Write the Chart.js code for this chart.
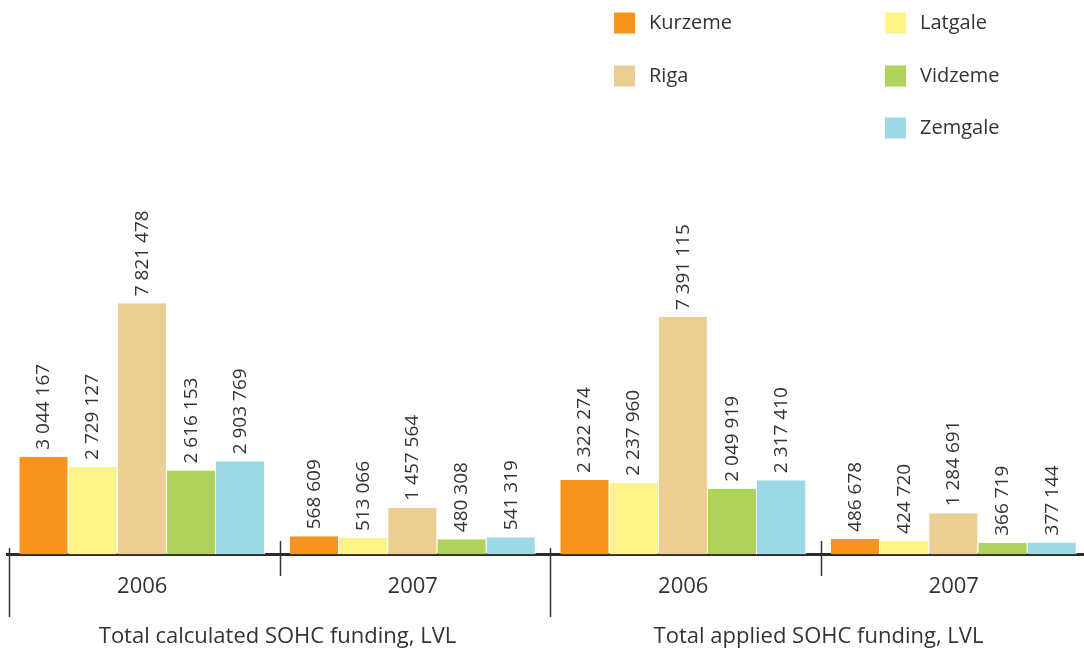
<!DOCTYPE html>
<html>
<head>
<meta charset="utf-8">
<script src="https://cdn.jsdelivr.net/npm/chart.js@4"></script>
<style>
  html, body { margin: 0; padding: 0; background: #fff; overflow: hidden; }
  #wrap { width: 1089px; height: 652px; position: relative; }
</style>
</head>
<body>
<div id="wrap"><canvas id="chart"></canvas></div>
<script>
// data
const years = ['2006', '2007', '2006', '2007'];
const groupLabels = ['Total calculated SOHC funding, LVL', 'Total applied SOHC funding, LVL'];
const regions = ['Kurzeme', 'Latgale', 'Riga', 'Vidzeme', 'Zemgale'];
const kurzeme = [3044167, 568609, 2322274, 486678];
const latgale = [2729127, 513066, 2237960, 424720];
const riga = [7821478, 1457564, 7391115, 1284691];
const vidzeme = [2616153, 480308, 2049919, 366719];
const zemgale = [2903769, 541319, 2317410, 377144];
const colors = ['#F7941D', '#FEF388', '#EDCE92', '#AFD25A', '#9DD8E5'];

const FONT = '"Open Sans", "Noto Sans", sans-serif';
const TEXT = '#333333';

function fmt(v) {
  return String(v).replace(/\B(?=(\d{3})+(?!\d))/g, ' ');
}

// value labels above bars, rotated
const valueLabels = {
  id: 'valueLabels',
  afterDatasetsDraw(chart) {
    const ctx = chart.ctx;
    ctx.save();
    ctx.font = '19px ' + FONT;
    ctx.fillStyle = TEXT;
    ctx.textAlign = 'left';
    ctx.textBaseline = 'middle';
    chart.data.datasets.forEach((ds, i) => {
      chart.getDatasetMeta(i).data.forEach((bar, j) => {
        ctx.save();
        ctx.translate(bar.x, bar.y - 7);
        ctx.rotate(-Math.PI / 2);
        ctx.fillText(fmt(ds.data[j]), 0, 0);
        ctx.restore();
      });
    });
    ctx.restore();
  }
};

// two-level axis: separators + group titles
const groupAxis = {
  id: 'groupAxis',
  afterDraw(chart) {
    const ctx = chart.ctx;
    const x = chart.scales.x;
    const half = (x.getPixelForValue(1) - x.getPixelForValue(0)) / 2;
    ctx.save();
    ctx.strokeStyle = TEXT;
    ctx.lineWidth = 1.5;
    for (let i = 0; i < years.length; i++) {
      const px = Math.round(x.getPixelForValue(i) - half) + 2.5;
      const major = i % 2 === 0;
      ctx.beginPath();
      ctx.moveTo(px, major ? 548 : 541);
      ctx.lineTo(px, major ? 617 : 576);
      ctx.stroke();
    }
    ctx.font = '22px ' + FONT;
    ctx.fillStyle = TEXT;
    ctx.textAlign = 'center';
    ctx.textBaseline = 'middle';
    groupLabels.forEach((g, k) => {
      const cx = (x.getPixelForValue(k * 2) + x.getPixelForValue(k * 2 + 1)) / 2;
      ctx.fillText(g, cx, 637);
    });
    ctx.restore();
  }
};

// legend in two columns, top right
const legendSlots = [[614, 23], [885, 23], [614, 76], [885, 76], [885, 128]];
const sideLegend = {
  id: 'sideLegend',
  afterDraw(chart) {
    const ctx = chart.ctx;
    ctx.save();
    ctx.font = '20px ' + FONT;
    ctx.textBaseline = 'middle';
    ctx.textAlign = 'left';
    chart.data.datasets.forEach((ds, i) => {
      const [lx, ly] = legendSlots[i];
      ctx.fillStyle = ds.backgroundColor;
      ctx.fillRect(lx, ly - 10.5, 21, 21);
      ctx.fillStyle = TEXT;
      ctx.fillText(ds.label, lx + 35, ly);
    });
    ctx.restore();
  }
};

const seriesValues = [kurzeme, latgale, riga, vidzeme, zemgale];

new Chart(document.getElementById('chart'), {
  type: 'bar',
  data: {
    labels: years,
    datasets: regions.map((r, i) => ({
      label: r,
      data: seriesValues[i],
      backgroundColor: colors[i],
      borderColor: '#ffffff',
      borderWidth: { left: 0, right: 1, top: 0, bottom: 0 },
      borderSkipped: false,
      barPercentage: 1,
      categoryPercentage: 0.909
    }))
  },
  options: {
    responsive: true,
    maintainAspectRatio: false,
    animation: false,
    layout: { padding: { top: 169, left: 7, right: 0, bottom: 41 } },
    plugins: {
      legend: { display: false },
      tooltip: { enabled: false }
    },
    scales: {
      y: {
        display: false,
        min: 0,
        max: 12000000
      },
      x: {
        grid: { display: false },
        border: { display: true, color: '#2a2a2a', width: 3 },
        ticks: {
          color: TEXT,
          font: { family: FONT, size: 22 },
          padding: 11
        }
      }
    }
  },
  plugins: [valueLabels, groupAxis, sideLegend]
});
</script>
</body>
</html>
